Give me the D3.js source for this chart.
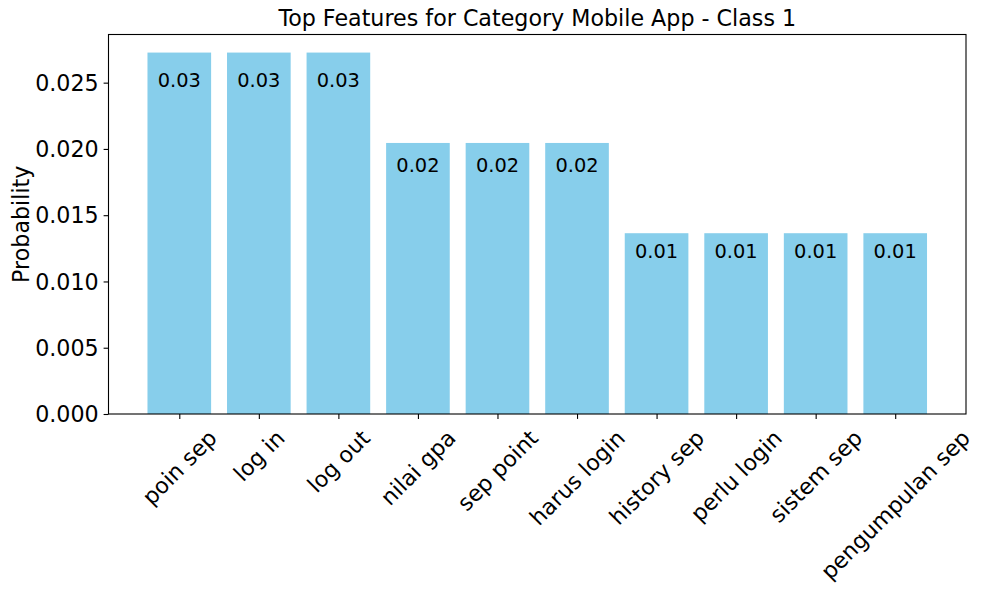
<!DOCTYPE html>
<html><head><meta charset="utf-8">
<script src="https://cdn.jsdelivr.net/npm/d3@7"></script>
<style>body{margin:0;background:#fff}svg{display:block}text{font-family:"DejaVu Sans",sans-serif;fill:#000}</style>
</head><body><svg id="c" width="983" height="590"></svg>
<script>
const categories = ["poin sep","log in","log out","nilai gpa","sep point","harus login","history sep","perlu login","sistem sep","pengumpulan sep"];
const values = [0.02727,0.02727,0.02727,0.02045,0.02045,0.02045,0.01364,0.01364,0.01364,0.01364];
const yTicks = [0,0.005,0.010,0.015,0.020,0.025];
const title = "Top Features for Category Mobile App - Class 1";
const yLabel = "Probability";

const svg = d3.select("#c");
const L=108.5, R=966, T=34.5, B=414;
const n = categories.length;
const x = d3.scaleLinear().domain([-0.89, n-1+0.89]).range([L,R]);
const ymax = d3.max(values)*1.05;
const y = d3.scaleLinear().domain([0,ymax]).range([B,T]);
const bw = x(0.8)-x(0);

svg.selectAll("rect.bar").data(values).join("rect").attr("class","bar")
  .attr("x",(d,i)=>x(i)-bw/2).attr("width",bw)
  .attr("y",d=>y(d)).attr("height",d=>B-y(d)).attr("fill","#87CEEB");

svg.selectAll("text.val").data(values).join("text").attr("class","val")
  .attr("x",(d,i)=>x(i)).attr("y",d=>y(d*0.945)+14.5).attr("text-anchor","middle")
  .style("font-size","19.4px").text(d=>d.toFixed(2));

// frame
svg.append("rect").attr("x",L).attr("y",T).attr("width",R-L).attr("height",B-T)
  .attr("fill","none").attr("stroke","#000").attr("stroke-width",1.1);

// y axis
const ya = svg.append("g").attr("transform",`translate(${L},0)`)
  .call(d3.axisLeft(y).tickValues(yTicks).tickFormat(d3.format(".3f")).tickSize(4.9).tickPadding(4.9));
ya.select(".domain").remove();
ya.selectAll("text").style("font-size","22.2px").attr("dy","0.35em");
ya.selectAll("line").attr("stroke-width",1.1);

// x axis ticks
const xa = svg.append("g").attr("transform",`translate(0,${B})`)
  .call(d3.axisBottom(x).tickValues(d3.range(n)).tickSize(4.9).tickFormat(""));
xa.select(".domain").remove();
xa.selectAll("line").attr("stroke-width",1.1);

const fs=22.2, h=fs*1.0, s=Math.SQRT1_2;
svg.selectAll("text.xl").data(categories).join("text").attr("class","xl")
  .style("font-size",fs+"px").attr("text-anchor","middle").attr("dominant-baseline","central")
  .text(d=>d)
  .each(function(d,i){
    const len=this.getComputedTextLength();
    const H=(len+h)*s;
    const cy=B+12+H/2;
    d3.select(this).attr("transform",`translate(${x(i)},${cy}) rotate(-45)`);
  });

svg.append("text").attr("x",(L+R)/2).attr("y",26).attr("text-anchor","middle")
  .style("font-size","22.2px").text(title);
svg.append("text").attr("transform",`translate(28.5,${(T+B)/2}) rotate(-90)`)
  .attr("text-anchor","middle").style("font-size","22.2px").text(yLabel);
</script></body></html>
